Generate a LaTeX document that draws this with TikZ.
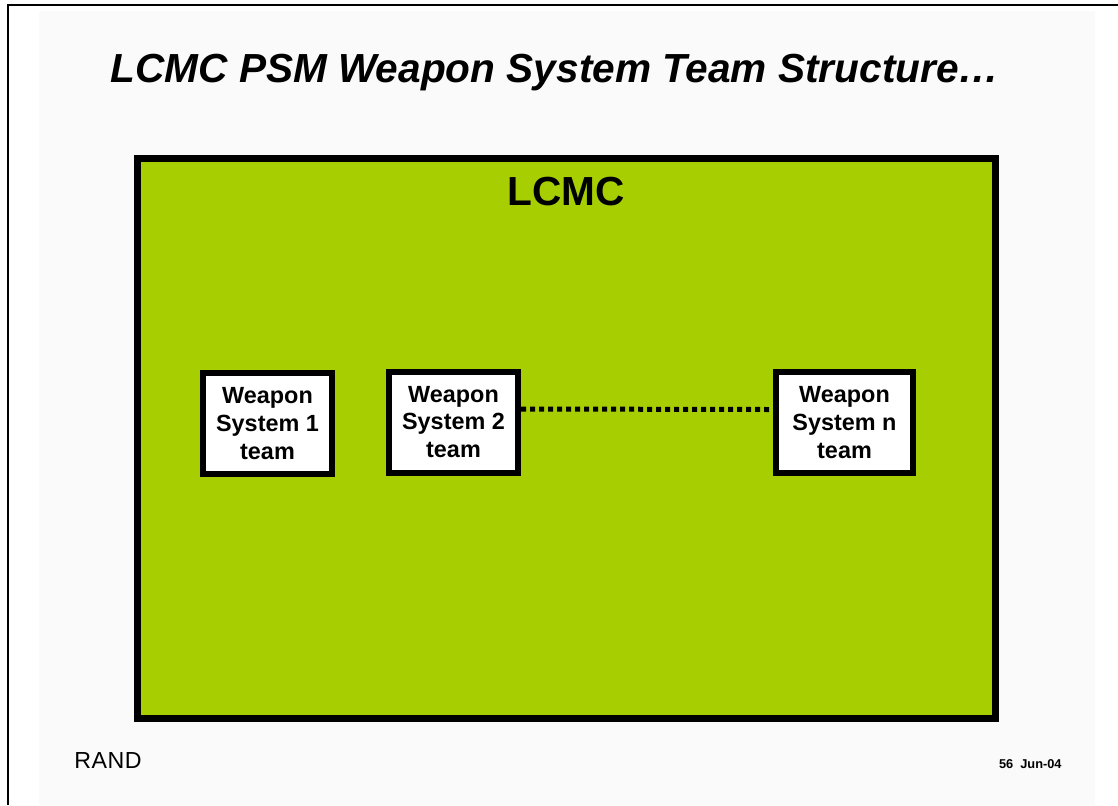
\documentclass[tikz,border=0pt]{standalone}
\usepackage{fontspec}
\setmainfont{Liberation Sans}
\newfontfamily\randfont[LetterSpace=2]{Liberation Sans}
\definecolor{lcmcgreen}{RGB}{166,206,0}
\definecolor{slidegray}{RGB}{250,250,250}

\begin{document}
\begin{tikzpicture}[x=0.5pt,y=-0.5pt,
  team/.style={draw=black, line width=3pt, fill=white, align=center, inner sep=0pt,
    font=\bfseries\fontsize{11.7}{13.9}\selectfont, minimum height=50.5pt}]
\useasboundingbox (0,0) rectangle (1118,805);
\fill[slidegray] (39,11) rectangle (1095,805);
\draw[line width=1.4pt] (8,805)--(8,5)--(1118,5);

\node[anchor=base, font=\bfseries\itshape\fontsize{20.3}{24}\selectfont] (title) at (555,82) {LCMC PSM Weapon System Team Structure…};

\draw[line width=3.5pt, fill=lcmcgreen] (137.5,158.5) rectangle (995.5,718.5);
\node[anchor=base, font=\bfseries\fontsize{20.3}{24}\selectfont] (lcmc) at (566.5,205) {LCMC};

 \node[team, minimum width=64.5pt] (ws1) at (267.5,423.5) {Weapon\\System 1\\team};
 \node[team, minimum width=64.5pt] (ws2) at (453.5,422) {Weapon\\System 2\\team};
 \node[team, minimum width=68.5pt] (wsn) at (844.5,422.5) {Weapon\\System n\\team};

\draw[line width=2.5pt, dash pattern=on 2.5pt off 2pt] ([yshift=6.5pt]ws2.east)--([yshift=6.5pt]wsn.west);

\node[anchor=base west, inner sep=0pt, font=\randfont\fontsize{11.6}{14}\selectfont] (rand) at (74,768) {RAND};
\node[anchor=base east, inner sep=0pt, font=\bfseries\fontsize{6.4}{8}\selectfont] (date) at (1062,768) {56\ \ Jun-04};
\end{tikzpicture}
\end{document}
